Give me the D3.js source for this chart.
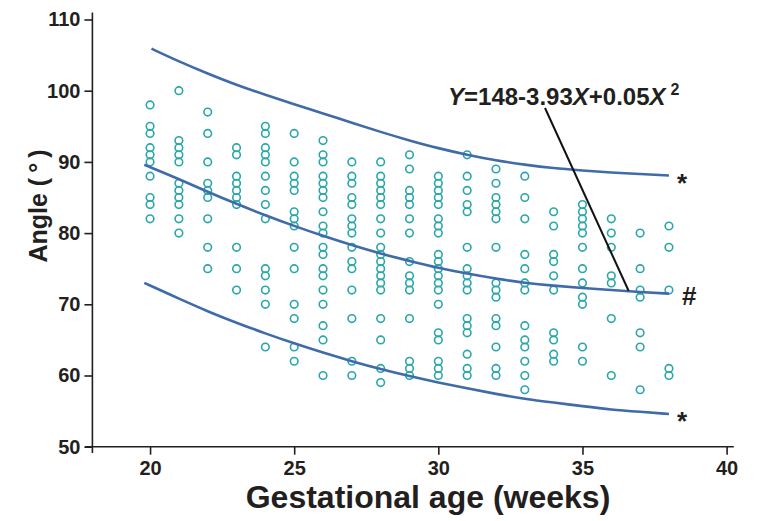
<!DOCTYPE html>
<html><head><meta charset="utf-8">
<script src="https://cdn.jsdelivr.net/npm/d3@7"></script>
<style>body{margin:0;background:#fff}svg{display:block;font-family:"Liberation Sans",Arial,sans-serif}</style>
</head><body><svg id="c" width="771" height="521"></svg>
<script>
// Data
const weeks = [20,21,22,23,24,25,26,27,28,29,30,31,32,33,34,35,36,37,38];
const angles = [
  [98,95,94,92,91,90,88,85,84,82],
  [100,93,92,91,90,87,86,85,84,82,80],
  [97,94,90,87,86,85,82,78,75],
  [92,91,88,87,86,85,84,78,75,72],
  [95,94,92,91,90,88,86,84,82,75,74,72,70,64],
  [94,90,88,87,86,83,82,81,78,75,70,68,64,62],
  [93,91,90,88,87,86,85,83,81,80,78,77,75,74,72,70,67,65,60],
  [90,88,87,85,84,82,81,80,78,76,75,72,68,62,60],
  [90,88,87,86,85,84,82,80,78,77,76,75,74,73,72,68,65,61,59],
  [91,89,86,85,84,82,80,76,74,73,72,68,62,61,60],
  [88,87,86,85,84,82,81,80,77,76,75,74,73,72,70,66,65,62,61,60],
  [91,88,86,84,83,78,75,74,73,72,68,67,66,63,61,60],
  [89,87,85,84,83,82,78,73,72,71,68,67,64,61,60],
  [88,85,82,77,75,73,72,67,65,64,62,60,58],
  [83,81,77,76,74,72,66,65,63,62],
  [84,83,82,81,80,78,75,73,71,70,64,62],
  [82,80,78,74,73,68,60],
  [80,75,72,71,66,64,58],
  [81,78,72,61,60]
];
const fitWeeks   = [19.8,21,22,23,24,25,26,27,28,29,30,31,32,33,34,35,36,37,38];
const meanFit    = [89.6,87.6,85.8,84.1,82.5,81.0,79.6,78.3,77.1,76.1,75.1,74.3,73.6,73.0,72.6,72.3,72.0,71.7,71.5];
const upperWeeks = [20.05,21,22,23,24,25,26,27,28,29,30,31,32,33,34,35,36,37,38];
const upperFit   = [105.9,104.1,102.4,100.8,99.4,98.1,96.8,95.5,94.2,93.0,91.9,91.0,90.2,89.6,89.1,88.8,88.5,88.3,88.1];
const lowerFit   = [73.0,70.8,69.0,67.4,65.9,64.5,63.2,62.0,60.9,59.9,59.0,58.2,57.4,56.7,56.2,55.7,55.2,54.9,54.6];
const xTicks = [20,25,30,35,40];
const yTicks = [50,60,70,80,90,100,110];
const formulaParts = [["Y",true],["=148-3.93",false],["X",true],["+0.05",false],["X",true]];
const formulaSup = "2";

const svg = d3.select("#c");
const x = d3.scaleLinear().domain([18,40]).range([92.4,726.6]);
const y = d3.scaleLinear().domain([50,110]).range([446.7,19.5]);
const ink = "#231f20", curveCol = "#3f6ba8", ptCol = "#2aa7ab";

// axes
const gx = svg.append("g").attr("transform",`translate(0,${y(50)})`)
  .call(d3.axisBottom(x).tickValues(xTicks).tickSize(8).tickSizeOuter(0).tickPadding(6));
const gy = svg.append("g").attr("transform",`translate(${x(18)},0)`)
  .call(d3.axisLeft(y).tickValues(yTicks).tickSize(8).tickSizeOuter(0).tickPadding(4));
[gx,gy].forEach(g=>{
  g.select(".domain").remove();
  g.selectAll("line").attr("stroke",ink).attr("stroke-width",1.6);
  g.selectAll("text").attr("fill",ink).style("font-size","20px").style("font-weight","bold")
   .style("font-family","'Liberation Sans',Arial,sans-serif");
});
svg.append("line").attr("x1",x(17.75)).attr("x2",x(40.25)).attr("y1",y(50)).attr("y2",y(50))
  .attr("stroke",ink).attr("stroke-width",1.6);
svg.append("line").attr("x1",x(18)).attr("x2",x(18)).attr("y1",y(49.1)).attr("y2",y(111))
  .attr("stroke",ink).attr("stroke-width",1.6);

// axis titles
svg.append("text").attr("x",428).attr("y",508).attr("text-anchor","middle")
  .attr("fill",ink).style("font-size","32px").style("font-weight","bold").text("Gestational age (weeks)");
svg.append("text").attr("transform",`translate(47,206) rotate(-90)`).attr("text-anchor","middle")
  .attr("fill",ink).style("font-size","25px").style("font-weight","bold").text("Angle (\u2009\u00b0\u2009)");

// points
const pts = [];
weeks.forEach((w,i)=>angles[i].forEach(v=>pts.push([w,v])));
svg.append("g").selectAll("circle").data(pts).join("circle")
  .attr("cx",d=>x(d[0])).attr("cy",d=>y(d[1])).attr("r",3.8)
  .attr("fill","none").attr("stroke",ptCol).attr("stroke-width",1.6);

// fitted curves
const line = d3.line().x(d=>x(d[0])).y(d=>y(d[1])).curve(d3.curveBasis);
const curves = [
  d3.zip(upperWeeks,upperFit),
  d3.zip(fitWeeks,meanFit),
  d3.zip(fitWeeks,lowerFit)
];
svg.append("g").selectAll("path").data(curves).join("path")
  .attr("d",line).attr("fill","none").attr("stroke",curveCol).attr("stroke-width",2.6);

// markers
const mk = svg.append("g").attr("fill",ink).style("font-weight","bold").style("font-size","26px");
mk.append("text").attr("x",x(38)+8).attr("y",y(upperFit[upperFit.length-1])+17).text("*");
mk.append("text").attr("x",x(38)+13).attr("y",y(meanFit[meanFit.length-1])+11).text("#");
mk.append("text").attr("x",x(38)+8).attr("y",y(lowerFit[lowerFit.length-1])+16).text("*");

// formula annotation
const ft = svg.append("text").attr("x",448).attr("y",105).attr("fill",ink)
  .style("font-size","24px").style("font-weight","bold");
formulaParts.forEach(([t,it])=>ft.append("tspan").style("font-style",it?"italic":"normal").text(t));
ft.append("tspan").attr("dx",5).attr("dy",-10).style("font-size","16px").text(formulaSup);
svg.append("line").attr("x1",545).attr("y1",108).attr("x2",x(36.6)).attr("y2",y(71.9))
  .attr("stroke","#111").attr("stroke-width",2);
</script></body></html>
